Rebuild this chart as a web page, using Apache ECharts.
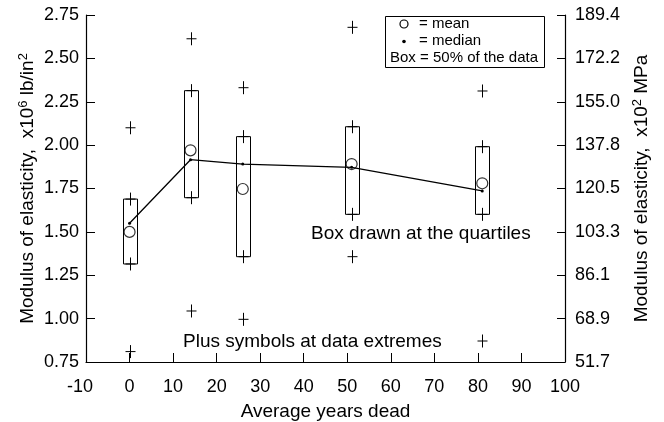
<!DOCTYPE html>
<html>
<head>
<meta charset="utf-8">
<script src="https://cdn.jsdelivr.net/npm/echarts@6/dist/echarts.min.js"></script>
<style>
html, body { margin: 0; padding: 0; background: #fff; }
#chart { width: 664px; height: 422px; }
</style>
</head>
<body>
<div id="chart"></div>
<script>
// years dead for each group, and the modulus values (x10^6 lb/in^2)
const years = [0, 14, 26, 51, 81];
const minVals = [0.81, 1.044, 0.996, 1.357, 0.871];
const q1Vals = [1.315, 1.697, 1.357, 1.601, 1.601];
const medianVals = [1.55, 1.916, 1.891, 1.872, 1.736];
const q3Vals = [1.689, 2.314, 2.049, 2.106, 1.991];
const maxVals = [2.10, 2.613, 2.331, 2.679, 2.312];
const meanVals = [1.50, 1.97, 1.747, 1.891, 1.78];

// right axis shows the same scale in x10^2 MPa
const rightTickLabels = ['51.7', '68.9', '86.1', '103.3', '120.5', '137.8', '155.0', '172.2', '189.4'];

const font = '"Liberation Sans", Arial, Helvetica, sans-serif';
const chart = echarts.init(document.getElementById('chart'), null, { renderer: 'canvas' });

const boxData = years.map((x, i) => [x, q1Vals[i], q3Vals[i]]);
const plusData = [];
years.forEach((x, i) => {
  plusData.push([x, minVals[i]], [x, q1Vals[i]], [x, q3Vals[i]], [x, maxVals[i]]);
});

const nameRich = {
  t: { fontSize: 19, fontFamily: font, color: '#000', lineHeight: 22 },
  s: { fontSize: 13, fontFamily: font, color: '#000', verticalAlign: 'top', lineHeight: 12 }
};

const option = {
  animation: false,
  backgroundColor: '#fff',
  textStyle: { fontFamily: font, color: '#000' },
  grid: { left: 86, right: 99, top: 15, bottom: 60, show: false, containLabel: false, outerBoundsMode: 'none' },
  xAxis: {
    type: 'value',
    min: -10,
    max: 100,
    interval: 10,
    name: 'Average years dead',
    nameLocation: 'middle',
    nameGap: 40,
    nameMoveOverlap: false,
    nameTextStyle: { fontSize: 19, fontFamily: font, color: '#000' },
    axisLine: { onZero: false, lineStyle: { color: '#000', width: 1.2 } },
    axisTick: { inside: true, length: 9, lineStyle: { color: '#000' } },
    axisLabel: {
      fontSize: 18, fontFamily: font, color: '#000', margin: 16,
      formatter: v => (v === -10 ? '{m|-10}' : String(v)),
      rich: { m: { fontSize: 18, fontFamily: font, color: '#000', padding: [0, 12, 0, 0] } }
    },
    splitLine: { show: false }
  },
  yAxis: [
    {
      type: 'value',
      min: 0.75,
      max: 2.75,
      interval: 0.25,
      position: 'left',
      name: '{t|Modulus of elasticity,  x10}{s|6}{t| lb/in}{s|2}',
      nameLocation: 'middle',
      nameRotate: 90,
      nameGap: 47,
      nameMoveOverlap: false,
      nameTextStyle: { rich: nameRich },
      axisLine: { show: true, onZero: false, lineStyle: { color: '#000', width: 1.2 } },
      axisTick: { show: true, inside: true, length: 9, lineStyle: { color: '#000' } },
      axisLabel: { fontSize: 18, fontFamily: font, color: '#000', margin: 7, formatter: v => v.toFixed(2) },
      splitLine: { show: false }
    },
    {
      type: 'value',
      min: 0.75,
      max: 2.75,
      interval: 0.25,
      position: 'right',
      name: '{t|Modulus of elasticity,  x10}{s|2}{t| MPa}',
      nameLocation: 'middle',
      nameRotate: 90,
      nameGap: 66,
      nameMoveOverlap: false,
      nameTextStyle: { rich: nameRich },
      axisLine: { show: true, onZero: false, lineStyle: { color: '#000', width: 1.2 } },
      axisTick: { show: true, inside: true, length: 8, lineStyle: { color: '#000' } },
      axisLabel: {
        fontSize: 18, fontFamily: font, color: '#000', margin: 10,
        formatter: (v, i) => rightTickLabels[i]
      },
      splitLine: { show: false }
    }
  ],
  series: [
    {
      // boxes from lower to upper quartile
      type: 'custom',
      name: 'box',
      data: boxData,
      encode: { x: 0, y: [1, 2] },
      renderItem: (params, api) => {
        const lo = api.coord([api.value(0), api.value(1)]);
        const hi = api.coord([api.value(0), api.value(2)]);
        return {
          type: 'rect',
          shape: { x: Math.round(lo[0]) - 6.5, y: hi[1], width: 14, height: lo[1] - hi[1] },
          style: { fill: 'none', stroke: '#000', lineWidth: 1 }
        };
      },
      z: 2
    },
    {
      // plus symbols at data extremes and quartiles
      type: 'custom',
      name: 'plus',
      data: plusData,
      encode: { x: 0, y: 1 },
      renderItem: (params, api) => {
        const p = api.coord([api.value(0), api.value(1)]);
        const cx = Math.round(p[0]) + 0.5;
        const st = { stroke: '#000', lineWidth: 1 };
        return {
          type: 'group',
          children: [
            { type: 'line', shape: { x1: cx - 5, y1: p[1], x2: cx + 5, y2: p[1] }, style: st },
            { type: 'line', shape: { x1: cx, y1: p[1] - 6.5, x2: cx, y2: p[1] + 6.5 }, style: st }
          ]
        };
      },
      z: 3
    },
    {
      type: 'line',
      name: 'median',
      data: years.map((x, i) => [x, medianVals[i]]),
      symbol: 'circle',
      symbolSize: 3,
      showSymbol: true,
      itemStyle: { color: '#000' },
      lineStyle: { color: '#000', width: 1.3 },
      z: 4
    },
    {
      type: 'scatter',
      name: 'mean',
      data: years.map((x, i) => [x, meanVals[i]]),
      symbol: 'circle',
      symbolSize: 11,
      itemStyle: { color: 'rgba(0,0,0,0)', borderColor: '#000', borderWidth: 1.2 },
      z: 5
    }
  ],
  graphic: [
    {
      type: 'rect',
      shape: { x: 385.5, y: 16.5, width: 159, height: 51 },
      style: { fill: '#fff', stroke: '#000', lineWidth: 1 },
      z: 10
    },
    {
      type: 'circle',
      shape: { cx: 404, cy: 24, r: 4 },
      style: { fill: 'none', stroke: '#000', lineWidth: 1.2 },
      z: 11
    },
    {
      type: 'circle',
      shape: { cx: 404, cy: 41.5, r: 1.8 },
      style: { fill: '#000' },
      z: 11
    },
    {
      type: 'text', x: 419, y: 24, z: 11,
      style: { text: '= mean', font: '15px ' + font, fill: '#000', verticalAlign: 'middle' }
    },
    {
      type: 'text', x: 419, y: 41, z: 11,
      style: { text: '= median', font: '15px ' + font, fill: '#000', verticalAlign: 'middle' }
    },
    {
      type: 'text', x: 390, y: 58, z: 11,
      style: { text: 'Box = 50% of the data', font: '15px ' + font, fill: '#000', verticalAlign: 'middle' }
    },
    {
      type: 'text', x: 311, y: 234, z: 11,
      style: { text: 'Box drawn at the quartiles', font: '19px ' + font, fill: '#000', verticalAlign: 'middle' }
    },
    {
      type: 'text', x: 183, y: 342, z: 11,
      style: { text: 'Plus symbols at data extremes', font: '19px ' + font, fill: '#000', verticalAlign: 'middle' }
    }
  ]
};

chart.setOption(option);
</script>
</body>
</html>
